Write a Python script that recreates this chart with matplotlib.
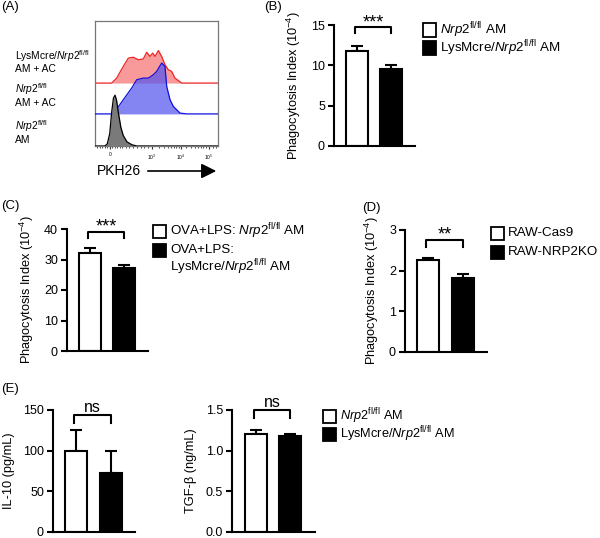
import matplotlib
matplotlib.use("Agg")
import matplotlib.pyplot as plt
from matplotlib.patches import Rectangle, FancyArrowPatch
import numpy as np

plt.rcParams['font.family'] = ['Liberation Sans', 'DejaVu Sans']
plt.rcParams['mathtext.fontset'] = 'custom'
plt.rcParams['mathtext.rm'] = 'Liberation Sans'
plt.rcParams['mathtext.it'] = 'Liberation Sans:italic'
plt.rcParams['mathtext.sf'] = 'Liberation Sans'

# ---------------- data ----------------
# Panel A histograms (x on display scale 0-100, relative counts)
black_x = [0, 8, 10, 12, 13.5, 15, 16.3, 17.5, 19, 21, 23, 26, 30, 34, 100]
black_y = [0, 0, 5, 30, 80, 115, 122, 110, 80, 45, 25, 10, 3, 0, 0]
blue_x = [0, 14.9, 23.0, 29.8, 33.9, 39.3, 43.4, 47.4, 50.1, 54.2, 56.9, 58.3, 61.0, 63.7, 69.1, 74.5, 100]
blue_y = [0, 0, 34, 62, 82, 86, 86, 94, 102, 122, 114, 66, 34, 18, 2, 0, 0]
red_x = [0, 13.6, 17.6, 23.0, 27.1, 31.2, 35.2, 39.3, 42.0, 44.7, 46.9, 48.8, 51.5, 54.2, 56.9, 59.6, 62.3, 65.0, 70.5, 100]
red_y = [0, 0, 12, 40, 60, 62, 56, 58, 74, 64, 72, 64, 78, 64, 44, 32, 28, 12, 0, 0]
offsets = [0, 77, 151]
a_tick_pos = [12.2, 46.3, 69.9, 92.7]
a_tick_labels = ['0', r'$10^3$', r'$10^4$', r'$10^5$']

# Panel B
b_means = [11.8, 9.55]
b_err = [0.55, 0.5]
b_sig = '***'
# Panel C
c_means = [32.2, 27.3]
c_err = [1.5, 1.0]
c_sig = '***'
# Panel D
d_means = [2.26, 1.81]
d_err = [0.06, 0.12]
d_sig = '**'
# Panel E
il10_means = [100, 72]
il10_err = [25, 28]
tgf_means = [1.20, 1.18]
tgf_err = [0.06, 0.025]
e_sig = 'ns'

W, H = 600, 538
fig = plt.figure(figsize=(6, 5.38), dpi=100)


def rect(l, t, r, b):
    return [l / W, 1 - b / H, (r - l) / W, (b - t) / H]


def ftext(x, y, s, **kw):
    fig.text(x / W, 1 - y / H, s, **kw)


# ---------------- Panel A ----------------
axA = fig.add_axes(rect(95, 21, 218, 146))
axA.set_xlim(0, 100)
axA.set_ylim(0, 300)
red_y_abs = np.array(red_y) + offsets[2]
blue_y_abs = np.array(blue_y) + offsets[1]
black_y_abs = np.array(black_y) + offsets[0]
axA.fill_between(red_x, offsets[2], red_y_abs, color='#f99a9a', lw=0, zorder=1)
axA.plot(red_x, red_y_abs, color='#ee2222', lw=0.9, zorder=2)
axA.fill_between(blue_x, offsets[1], blue_y_abs, color='#5555ee', alpha=0.72, lw=0, zorder=3)
axA.plot(blue_x, blue_y_abs, color='#1010dd', lw=0.9, zorder=4)
axA.fill_between(black_x, offsets[0], black_y_abs, color='#7a7a7a', lw=0, zorder=5)
axA.plot(black_x, black_y_abs, color='black', lw=0.9, zorder=6)
for s in axA.spines.values():
    s.set_color('#777777')
    s.set_linewidth(0.9)
axA.set_yticks([])
axA.set_xticks(a_tick_pos)
axA.set_xticklabels(a_tick_labels, fontsize=3.5)
minor = [2, 4, 6, 8, 10, 14, 16, 18, 20, 22, 25, 28, 31, 34, 37, 40, 43, 52, 56, 59, 62, 64, 66, 68,
         74, 78, 81, 84, 86, 88, 90, 96, 98]
axA.set_xticks(minor, minor=True)
axA.tick_params(axis='x', which='major', length=2.5, width=0.8, pad=2, color='#333333')
axA.tick_params(axis='x', which='minor', length=1.3, width=0.6, color='#333333')

ftext(1, 1, '(A)', fontsize=9.5, va='top')
a_lab = [(56, r'LysMcre/$\mathit{Nrp2}^{\mathrm{fl/fl}}$'), (69.5, 'AM + AC'),
         (89, r'$\mathit{Nrp2}^{\mathrm{fl/fl}}$'), (103, 'AM + AC'),
         (126, r'$\mathit{Nrp2}^{\mathrm{fl/fl}}$'), (140, 'AM')]
for y, s in a_lab:
    ftext(15, y, s, fontsize=7.4, va='center')
ftext(97, 171, 'PKH26', fontsize=10, va='center')
arr = FancyArrowPatch((145 / W, 1 - 171 / H), (219 / W, 1 - 171 / H), transform=fig.transFigure,
                      arrowstyle='-|>,head_length=6,head_width=3', color='black', lw=1.2,
                      mutation_scale=1.5)
fig.add_artist(arr)


# ---------------- bar panel helper ----------------
def bar_panel(box, means, errs, ylim, yticks, yticklabels, sig, sig_y, sig_leg, sig_txt, ylabel,
              xlim=(-0.66, 1.69)):
    ax = fig.add_axes(rect(*box))
    x = [0, 1]
    ax.bar(x, means, width=0.63, color=['white', 'black'], edgecolor='black', linewidth=1.5, zorder=2)
    ax.errorbar(x, means, yerr=[[0, 0], errs], fmt='none', ecolor='black', elinewidth=1.5,
                capsize=4.2, capthick=1.5, zorder=1)
    ax.set_xlim(*xlim)
    ax.set_ylim(*ylim)
    ax.set_xticks([])
    ax.set_yticks(yticks)
    ax.set_yticklabels(yticklabels, fontsize=9)
    ax.tick_params(axis='y', length=4.5, width=1.5, pad=2)
    for s in ['top', 'right']:
        ax.spines[s].set_visible(False)
    for s in ['left', 'bottom']:
        ax.spines[s].set_linewidth(1.5)
    ax.plot([-0.05, -0.05, 1.0, 1.0], [sig_leg, sig_y, sig_y, sig_leg], color='black', lw=1.5,
            clip_on=False)
    if sig == 'ns':
        ax.text(0.475, sig_txt, sig, ha='center', va='center', fontsize=11.5)
    else:
        ax.text(0.475, sig_txt, sig, ha='center', va='center', fontsize=13)
    ax.set_ylabel(ylabel, fontsize=9.2, labelpad=6)
    return ax


def legend(x, rows, size=13, fs=9.6):
    for y, txt, col in rows:
        if col is not None:
            fig.add_artist(Rectangle(((x) / W, 1 - (y + size / 2) / H), size / W, size / H,
                                     transform=fig.transFigure, facecolor=col, edgecolor='black',
                                     lw=1.3))
        ftext(x + size + 4, y, txt, fontsize=fs, va='center')


# Panel B
ylab_phago = r'Phagocytosis Index (10$^{-4}$)'
bar_panel((334, 25, 415, 146), b_means, b_err, (0, 15), [0, 5, 10, 15], ['0', '5', '10', '15'],
          b_sig, 14.75, 14.0, 15.2, ylab_phago)
ftext(264, 1, '(B)', fontsize=9.5, va='top')
legend(423, [(30, r'$\mathit{Nrp2}^{\mathrm{fl/fl}}$ AM', 'white'),
             (48, r'LysMcre/$\mathit{Nrp2}^{\mathrm{fl/fl}}$ AM', 'black')])

# Panel C
bar_panel((67, 229, 148, 351), c_means, c_err, (0, 40), [0, 10, 20, 30, 40],
          ['0', '10', '20', '30', '40'], c_sig, 39, 37, 40.6, ylab_phago)
ftext(1, 200, '(C)', fontsize=9.5, va='top')
legend(153, [(231.5, r'OVA+LPS: $\mathit{Nrp2}^{\mathrm{fl/fl}}$ AM', 'white'),
             (250, 'OVA+LPS:', 'black'),
             (267, r'LysMcre/$\mathit{Nrp2}^{\mathrm{fl/fl}}$ AM', None)])

# Panel D
bar_panel((405, 230, 487, 352), d_means, d_err, (0, 3), [0, 1, 2, 3], ['0', '1', '2', '3'],
          d_sig, 2.75, 2.58, 2.87, ylab_phago)
ftext(362, 202, '(D)', fontsize=9.5, va='top')
legend(491, [(233, 'RAW-Cas9', 'white'), (252, 'RAW-NRP2KO', 'black')])

# Panel E
bar_panel((53, 410, 135, 532), il10_means, il10_err, (0, 150), [0, 50, 100, 150],
          ['0', '50', '100', '150'], e_sig, 144, 134, 153, 'IL-10 (pg/mL)')
bar_panel((232, 410, 315, 532), tgf_means, tgf_err, (0, 1.5), [0, 0.5, 1.0, 1.5],
          ['0.0', '0.5', '1.0', '1.5'], e_sig, 1.5, 1.40, 1.59, 'TGF-β (ng/mL)',
          xlim=(-0.7, 1.74))
ftext(1, 383, '(E)', fontsize=9.5, va='top')
legend(323, [(416, r'$\mathit{Nrp2}^{\mathrm{fl/fl}}$ AM', 'white'),
             (434, r'LysMcre/$\mathit{Nrp2}^{\mathrm{fl/fl}}$ AM', 'black')], fs=9.2)

fig.savefig('out.png', dpi=100)
